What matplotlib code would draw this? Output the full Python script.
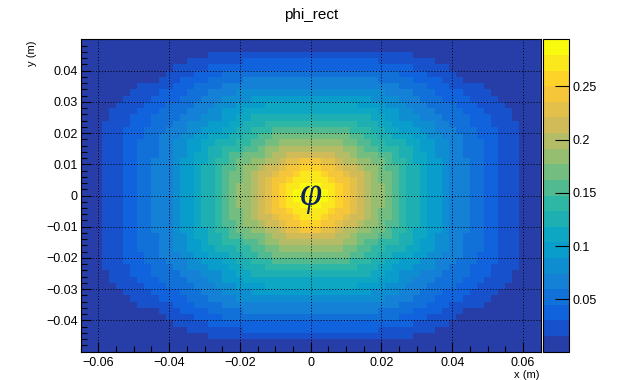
import matplotlib
matplotlib.use("Agg")
import matplotlib.pyplot as plt
import numpy as np
from matplotlib.colors import ListedColormap, BoundaryNorm, LinearSegmentedColormap

plt.rcParams["font.family"] = ["Liberation Sans", "DejaVu Sans"]

# phi along the centre row (y = 0), read at x = 0, 0.002, ..., 0.064 m
phi_row = [0.294, 0.291, 0.284, 0.273, 0.260, 0.246, 0.232, 0.218, 0.204,
           0.190, 0.177, 0.165, 0.153, 0.142, 0.131, 0.120, 0.110, 0.099,
           0.090, 0.081, 0.074, 0.067, 0.060, 0.053, 0.047, 0.041, 0.035,
           0.030, 0.025, 0.020, 0.0155, 0.010, 0.004]

# phi along the centre column (x = 0), read at y = 0.001, 0.003, ..., 0.049 m
phi_col = [0.293, 0.288, 0.279, 0.267, 0.253, 0.237, 0.220, 0.203, 0.186,
           0.170, 0.155, 0.142, 0.130, 0.118, 0.107, 0.096, 0.085, 0.074,
           0.063, 0.052, 0.042, 0.032, 0.023, 0.015, 0.005]

x_edges = np.linspace(-0.065, 0.065, 66)
y_edges = np.linspace(-0.05, 0.05, 51)
z_min, z_max = 0.001, 0.294
n_levels = 20

cb_ticks = [0.05, 0.1, 0.15, 0.2, 0.25]
cb_labels = ["0.05", "0.1", "0.15", "0.2", "0.25"]
x_ticks = [-0.06, -0.04, -0.02, 0, 0.02, 0.04, 0.06]
x_labels = ["\u22120.06", "\u22120.04", "\u22120.02", "0", "0.02", "0.04", "0.06"]
y_ticks = [-0.04, -0.03, -0.02, -0.01, 0, 0.01, 0.02, 0.03, 0.04]
y_labels = ["\u22120.04", "\u22120.03", "\u22120.02", "\u22120.01", "0",
            "0.01", "0.02", "0.03", "0.04"]

# grid built from the two profiles: round contours near the peak,
# squarer ones towards the walls
row = np.array(phi_row)
col = np.array(phi_col)
fx = np.concatenate([row[:0:-1], row])
gy = np.concatenate([col[::-1], col])
u = np.clip(1 - fx[None, :] / z_max, 1e-9, None)
v = np.clip(1 - gy[:, None] / z_max, 1e-9, None)
p = 1 + 4 * np.maximum(u, v) ** 1.5
phi = z_max * (1 - (u ** p + v ** p) ** (1 / p))
phi = np.clip(phi, z_min, z_max)

# ROOT kBird palette, 20 contour colours
stops = [0.0, 0.125, 0.25, 0.375, 0.5, 0.625, 0.75, 0.875, 1.0]
red = [0.2082, 0.0592, 0.0780, 0.0232, 0.1802, 0.5301, 0.8186, 0.9956, 0.9764]
green = [0.1664, 0.3599, 0.5041, 0.6419, 0.7178, 0.7492, 0.7328, 0.7862, 0.9832]
blue = [0.5293, 0.8684, 0.8385, 0.7914, 0.6425, 0.4662, 0.3499, 0.1968, 0.0539]
bird = LinearSegmentedColormap.from_list(
    "bird", list(zip(stops, zip(red, green, blue))), N=255)
idx = [int((k + 0.99) * 255 / n_levels) for k in range(n_levels)]
cmap = ListedColormap([bird(i / 254) for i in idx])
bounds = np.linspace(z_min, z_max, n_levels + 1)
norm = BoundaryNorm(bounds, n_levels)

fig = plt.figure(figsize=(6.18, 3.80), dpi=100)
W, H = 618, 380
ax = fig.add_axes([80.7 / W, 1 - 351.7 / H, 460 / W, 312.4 / H])
mesh = ax.pcolormesh(x_edges, y_edges, phi, cmap=cmap, norm=norm)
ax.set_xlim(-0.065, 0.065)
ax.set_ylim(-0.05, 0.05)

ax.set_xticks(x_ticks)
ax.set_xticklabels(x_labels)
ax.set_yticks(y_ticks)
ax.set_yticklabels(y_labels)
ax.set_xticks(np.arange(-0.065, 0.0651, 0.005), minor=True)
ax.set_yticks(np.arange(-0.048, 0.0481, 0.002), minor=True)
ax.tick_params(which="both", direction="in", top=False, right=False,
               labelsize=9, colors="black")
ax.tick_params(which="major", length=7.5, width=0.8)
ax.tick_params(which="minor", length=4, width=0.8)
ax.tick_params(axis="x", pad=4)
ax.tick_params(axis="y", pad=2)
ax.grid(True, which="major", color="black", linestyle=(0, (1, 2)), linewidth=0.7)
for s in ax.spines.values():
    s.set_linewidth(0.8)

ax.text(0, 0, "\u03c6", fontsize=29, style="italic", family="Liberation Serif",
        color="#0b2160", ha="center", va="center")

cax = fig.add_axes([542.7 / W, 1 - 351.7 / H, 26.6 / W, 312.4 / H])
cb = fig.colorbar(mesh, cax=cax, ticks=cb_ticks)
cb.ax.set_yticklabels(cb_labels)
cb.ax.tick_params(direction="in", length=10, width=0.8, labelsize=9, pad=2)
cb.ax.minorticks_off()
cb.outline.set_linewidth(0.8)

fig.text(311 / W, 1 - 15 / H, "phi_rect", ha="center", va="center", fontsize=11)
fig.text(540 / W, 1 - 375 / H, "x (m)", ha="right", va="center", fontsize=8)
fig.text(32 / W, 1 - 40 / H, "y (m)", ha="center", va="top", rotation=90,
         fontsize=8)

fig.savefig("out.png", dpi=100)
